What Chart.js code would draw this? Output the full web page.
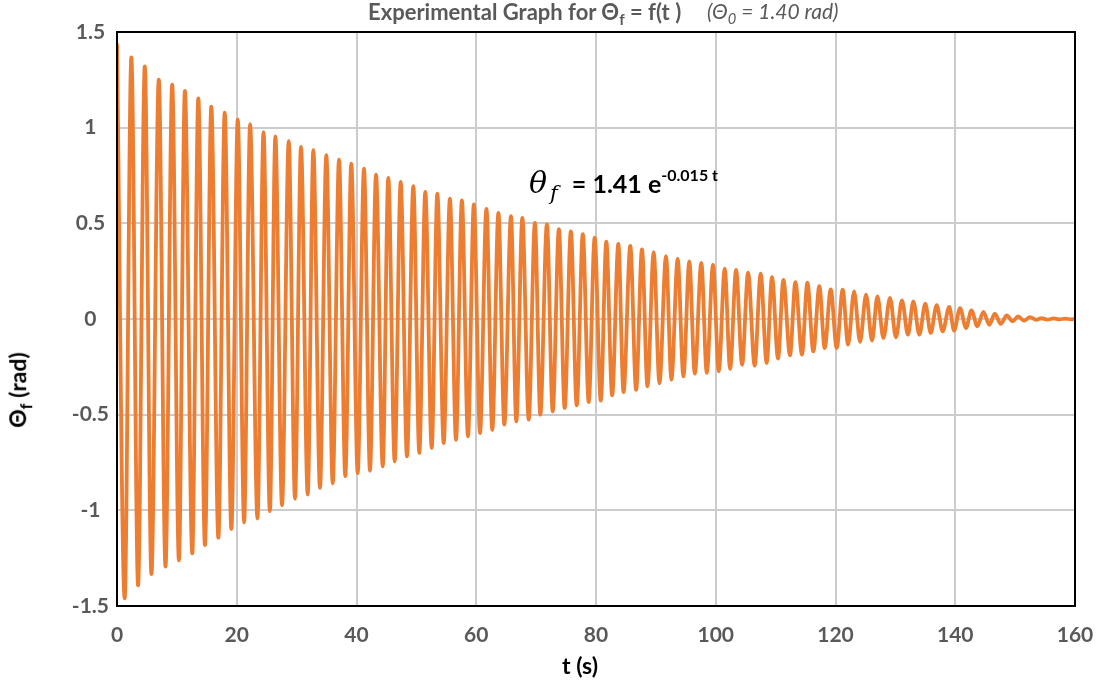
<!DOCTYPE html>
<html>
<head>
<meta charset="utf-8">
<script src="https://cdn.jsdelivr.net/npm/chart.js@4.4.1/dist/chart.umd.min.js"></script>
<style>
    body { margin: 0; background: #fff; }
    #chartContainer { position: relative; width: 1098px; height: 684px; font-family: Lato, "Open Sans", sans-serif; }
    .txt { position: absolute; white-space: nowrap; }
    .titulo { left: 368px; top: -2px; font-size: 22px; font-weight: bold; color: #595959; }
    .subtitulo { left: 707px; top: -2px; font-size: 21px; font-style: italic; color: #595959; }
    .eixoX { left: 580px; top: 665px; transform: translate(-50%, -50%); font-size: 23px; font-weight: bold; color: #000; }
    .eixoY { left: 19px; top: 390px; transform: translate(-50%, -50%) rotate(-90deg); font-size: 23px; font-weight: bold; color: #000; }
    .equacao { left: 529px; top: 165px; font-size: 25px; font-weight: bold; color: #000; }
    .equacao .theta { font-family: "DejaVu Serif", serif; font-style: italic; font-weight: normal; font-size: 30px; margin-right: 14px; }
    .equacao .theta sub { margin-left: 3px; }
    .equacao sup { font-size: 16px; vertical-align: 12px; }
    sub { font-size: 70%; }
</style>
</head>
<body>
<div id="chartContainer">
    <canvas id="grafico"></canvas>
    <div class="txt titulo">Experimental Graph for Θ<sub>f</sub> = f(t )</div>
    <div class="txt subtitulo">(Θ<sub>0</sub> = 1.40 rad)</div>
    <div class="txt equacao"><span class="theta">θ<sub>f</sub></span>= 1.41 e<sup>-0.015 t</sup></div>
    <div class="txt eixoY">Θ<sub>f</sub> (rad)</div>
    <div class="txt eixoX">t (s)</div>
</div>
<script>
// máximos da oscilação (tempo em s, ângulo em rad)
let picosTempo = [0, 2.40, 4.64, 6.98, 9.22, 11.34, 13.58, 15.75, 17.99, 20.17,
    22.23, 24.47, 26.45, 28.68, 30.73, 32.79, 34.96, 37.08, 39.13, 41.25,
    43.26, 45.31, 47.38, 49.49, 51.49, 53.5, 55.6, 57.6, 59.6, 61.7,
    63.7, 65.8, 67.7, 69.8, 71.8, 73.8, 75.8, 77.8, 79.78, 81.72,
    83.73, 85.73, 87.68, 89.63, 91.69, 93.64, 95.58, 97.59, 99.54, 101.5,
    103.4, 105.4, 107.5, 109.4, 111.3, 113.3, 115.3, 117.3, 119.2, 121.2,
    123.1, 125.1, 127.0, 129.1, 131.1, 133.0, 135.0, 136.9, 139.0, 140.8,
    142.7, 144.7, 146.6, 148.6, 150.5, 152.5, 154.4];
let picosValor = [1.44, 1.367, 1.32, 1.251, 1.225, 1.192, 1.153, 1.11, 1.078, 1.043,
    1.018, 0.976, 0.955, 0.930, 0.899, 0.883, 0.856, 0.833, 0.812, 0.786,
    0.754, 0.737, 0.716, 0.694, 0.664, 0.655, 0.629, 0.620, 0.599, 0.576,
    0.554, 0.537, 0.528, 0.502, 0.495, 0.469, 0.458, 0.444, 0.425, 0.404,
    0.392, 0.382, 0.364, 0.350, 0.329, 0.315, 0.301, 0.293, 0.284, 0.263,
    0.256, 0.242, 0.237, 0.219, 0.205, 0.193, 0.190, 0.172, 0.155, 0.153,
    0.144, 0.127, 0.118, 0.110, 0.097, 0.092, 0.080, 0.072, 0.063, 0.057,
    0.045, 0.037, 0.028, 0.019, 0.014, 0.010, 0.004];

// mínimos da oscilação
let valesTempo = [1.28, 3.52, 5.75, 8.10, 10.34, 12.57, 14.69, 16.93, 19.1, 21.23,
    23.46, 25.53, 27.56, 29.73, 31.85, 33.9, 36.03, 38.13, 40.2, 42.25,
    44.38, 46.38, 48.43, 50.49, 52.56, 54.56, 56.62, 58.62, 60.63, 62.68,
    64.69, 66.69, 68.76, 70.7, 72.77, 74.77, 76.78, 78.78, 80.8, 82.7,
    84.6, 86.7, 88.6, 90.6, 92.6, 94.6, 96.5, 98.5, 100.5, 102.4,
    104.4, 106.5, 108.5, 110.4, 112.4, 114.4, 116.3, 118.2, 120.2, 122.1,
    124.1, 126.1, 128.0, 130.1, 132.1, 134.0, 135.9, 137.9, 139.8, 141.8,
    143.7, 145.7, 147.6, 149.6, 151.5, 153.5];
let valesValor = [-1.46, -1.392, -1.333, -1.294, -1.261, -1.225, -1.182, -1.143, -1.098, -1.063,
    -1.043, -1.004, -0.974, -0.939, -0.918, -0.883, -0.859, -0.822, -0.805, -0.793,
    -0.770, -0.744, -0.718, -0.700, -0.674, -0.648, -0.631, -0.613, -0.596, -0.579,
    -0.552, -0.535, -0.526, -0.500, -0.483, -0.465, -0.451, -0.434, -0.427, -0.399,
    -0.382, -0.370, -0.352, -0.336, -0.317, -0.300, -0.286, -0.282, -0.273, -0.261,
    -0.239, -0.244, -0.230, -0.207, -0.190, -0.186, -0.169, -0.152, -0.152, -0.134,
    -0.120, -0.113, -0.099, -0.096, -0.082, -0.082, -0.073, -0.065, -0.061, -0.047,
    -0.038, -0.030, -0.025, -0.012, -0.009, -0.004];

// final do ensaio, pêndulo praticamente parado
let finalTempo = [155.4, 156.4, 157.4, 158.4, 159.3, 160];
let finalValor = [-0.003, 0.003, -0.002, 0.002, -0.002, 0.001];

// marcas dos eixos
let ticksX = [0, 20, 40, 60, 80, 100, 120, 140, 160];
let ticksY = [-1.5, -1, -0.5, 0, 0.5, 1, 1.5];

// junta tudo em ordem de tempo
let pontos = [];
picosTempo.forEach((t, i) => pontos.push({ x: t, y: picosValor[i] }));
valesTempo.forEach((t, i) => pontos.push({ x: t, y: valesValor[i] }));
finalTempo.forEach((t, i) => pontos.push({ x: t, y: finalValor[i] }));
pontos.sort((a, b) => a.x - b.x);

// moldura preta em volta da área do gráfico
const moldura = {
    id: 'moldura',
    afterDraw(chart) {
        const { ctx, chartArea: a } = chart;
        ctx.save();
        ctx.strokeStyle = '#000';
        ctx.lineWidth = 2;
        ctx.strokeRect(a.left, a.top, a.right - a.left, a.bottom - a.top);
        ctx.restore();
    }
};

var fonteTick = { family: 'Lato, "Open Sans", sans-serif', size: 21, weight: 'bold' };

var ctx = document.getElementById('grafico').getContext('2d');
var chart = new Chart(ctx, {
    type: 'line',
    data: {
        datasets: [{
            label: 'θf',
            data: pontos,
            borderColor: '#ED7D31',
            borderWidth: 3.8,
            pointRadius: 0,
            cubicInterpolationMode: 'monotone',
            fill: false
        }]
    },
    options: {
        responsive: true,
        maintainAspectRatio: false,
        animation: false,
        layout: { padding: { top: 32, right: 23, left: 0, bottom: 0 } },
        plugins: { legend: { display: false }, tooltip: { enabled: false } },
        scales: {
            x: {
                type: 'linear',
                min: ticksX[0],
                max: ticksX[ticksX.length - 1],
                afterBuildTicks: s => { s.ticks = ticksX.map(v => ({ value: v })); },
                // altura fixa e sem folga extra para o rótulo "160"
                afterFit: s => { s.height = 78; s.paddingLeft = 0; s.paddingRight = 0; },
                grid: { color: '#cccccc', lineWidth: 2, drawTicks: false },
                border: { display: false },
                ticks: { color: '#595959', font: fonteTick, padding: 17, maxRotation: 0 }
            },
            y: {
                min: ticksY[0],
                max: ticksY[ticksY.length - 1],
                afterBuildTicks: s => { s.ticks = ticksY.map(v => ({ value: v })); },
                afterFit: s => { s.width = 117; s.paddingTop = 0; s.paddingBottom = 0; },
                grid: { color: '#cccccc', lineWidth: 2, drawTicks: false },
                border: { display: false },
                ticks: {
                    color: '#595959', font: fonteTick, padding: 8, crossAlign: 'center',
                    callback: v => String(v)
                }
            }
        }
    },
    plugins: [moldura]
});
</script>
</body>
</html>
